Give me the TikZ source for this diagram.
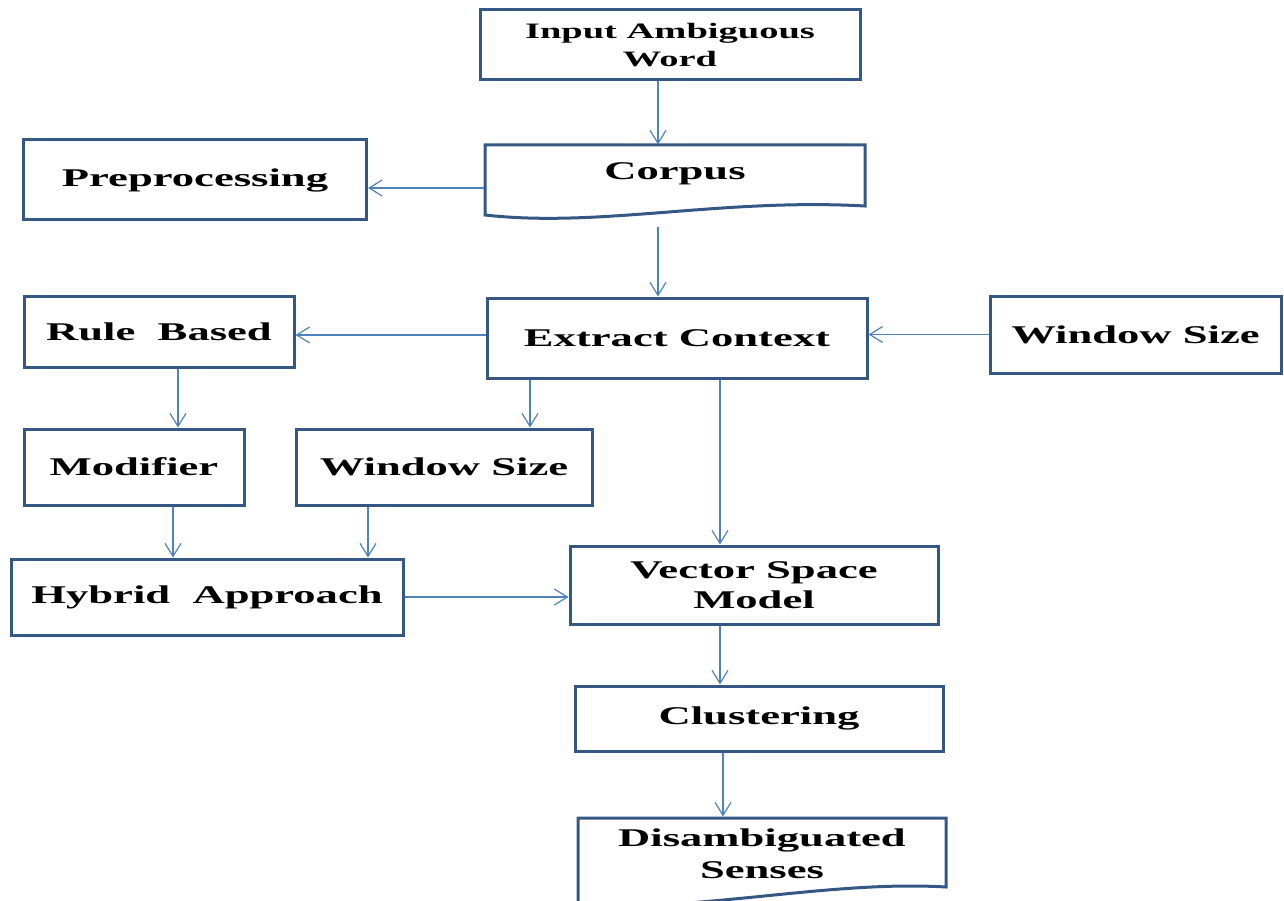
\documentclass[tikz,border=0pt]{standalone}
\usepackage{fontspec}
\setmainfont{Liberation Serif}[FakeStretch=1.75]
\usetikzlibrary{arrows.meta}
\definecolor{boxblue}{RGB}{52,87,132}
\definecolor{lineblue}{RGB}{79,129,189}

\tikzset{
	box/.style={draw=boxblue, line width=3pt, inner sep=0pt, align=center,
		font=\fontsize{25.5}{30}\selectfont\bfseries},
	boxline/.style={draw=boxblue, line width=3pt, line join=miter},
	arr/.style={draw=lineblue, line width=1.2pt, -{Straight Barb[length=13pt,width=16pt]}},
}

\begin{document}
\begin{tikzpicture}[x=1pt, y=-1pt]
	\useasboundingbox (0, 0) rectangle (1284, 901);

	\node[box, minimum width=380, minimum height=70, font=\fontsize{22}{28}\selectfont\bfseries] (input) at (670, 45) {Input Ambiguous\\Word};
	\node[box, draw=none, minimum width=380, minimum height=56] (corpus) at (675, 174) {Corpus};
	\draw[boxline] (485, 145) -- (865, 145) -- (865, 206) .. controls (720, 198) and (600, 228) .. (485, 215) -- cycle;
	\node[box, minimum width=343, minimum height=80] (prep) at (195, 180) {Preprocessing};

	\node[box, minimum width=380, minimum height=80] (extract) at (677, 338) {Extract Context};
	\node[box, minimum width=270, minimum height=71] (rule) at (159, 332) {Rule\ \ Based};
	\node[box, minimum width=291, minimum height=77] (winR) at (1135.5, 334.5) {Window Size};

	\node[box, minimum width=220, minimum height=76] (modifier) at (134, 467) {Modifier};
	\node[box, minimum width=296, minimum height=76] (winM) at (444, 467) {Window Size};
	\node[box, minimum width=392, minimum height=76] (hybrid) at (207, 597) {Hybrid\ \ Approach};

	\node[box, minimum width=368, minimum height=78] (vector) at (754, 585) {Vector Space\\Model};
	\node[box, minimum width=368, minimum height=65] (cluster) at (759, 718.5) {Clustering};
	\node[box, draw=none, minimum width=368, minimum height=72, font=\fontsize{25.5}{32}\selectfont\bfseries] (disamb) at (762, 854) {Disambiguated\\Senses};
	\draw[boxline] (578, 818) -- (946, 818) -- (946, 887) .. controls (830, 880) and (700, 912) .. (578, 905) -- cycle;

	% connectors
	\draw[arr] ([xshift=-12]input.south) -- ([xshift=-17]corpus.north);
	\draw[arr] ([yshift=-14]corpus.west) -- ([yshift=-14]corpus.west -| prep.east);
	\draw[arr] ([xshift=-17, yshift=-24]corpus.south) -- ([xshift=-19]extract.north);
	\draw[arr] ([yshift=3]extract.west) -- ([yshift=3]extract.west -| rule.east);
	\draw[arr] (winR.west) -- (winR.west -| extract.east);
	\draw[arr] ([xshift=-147]extract.south) -- ([xshift=86]winM.north);
	\draw[arr] ([xshift=43]extract.south) -- ([xshift=-34]vector.north);
	\draw[arr] ([xshift=19]rule.south) -- ([xshift=44]modifier.north);
	\draw[arr] ([xshift=39]modifier.south) -- ([xshift=-34]hybrid.north);
	\draw[arr] ([xshift=-76]winM.south) -- ([xshift=161]hybrid.north);
	\draw[arr] (hybrid.east) -- (hybrid.east -| vector.west);
	\draw[arr] ([xshift=-34]vector.south) -- ([xshift=-39]cluster.north);
	\draw[arr] ([xshift=-36]cluster.south) -- ([xshift=-39]disamb.north);
\end{tikzpicture}
\end{document}
